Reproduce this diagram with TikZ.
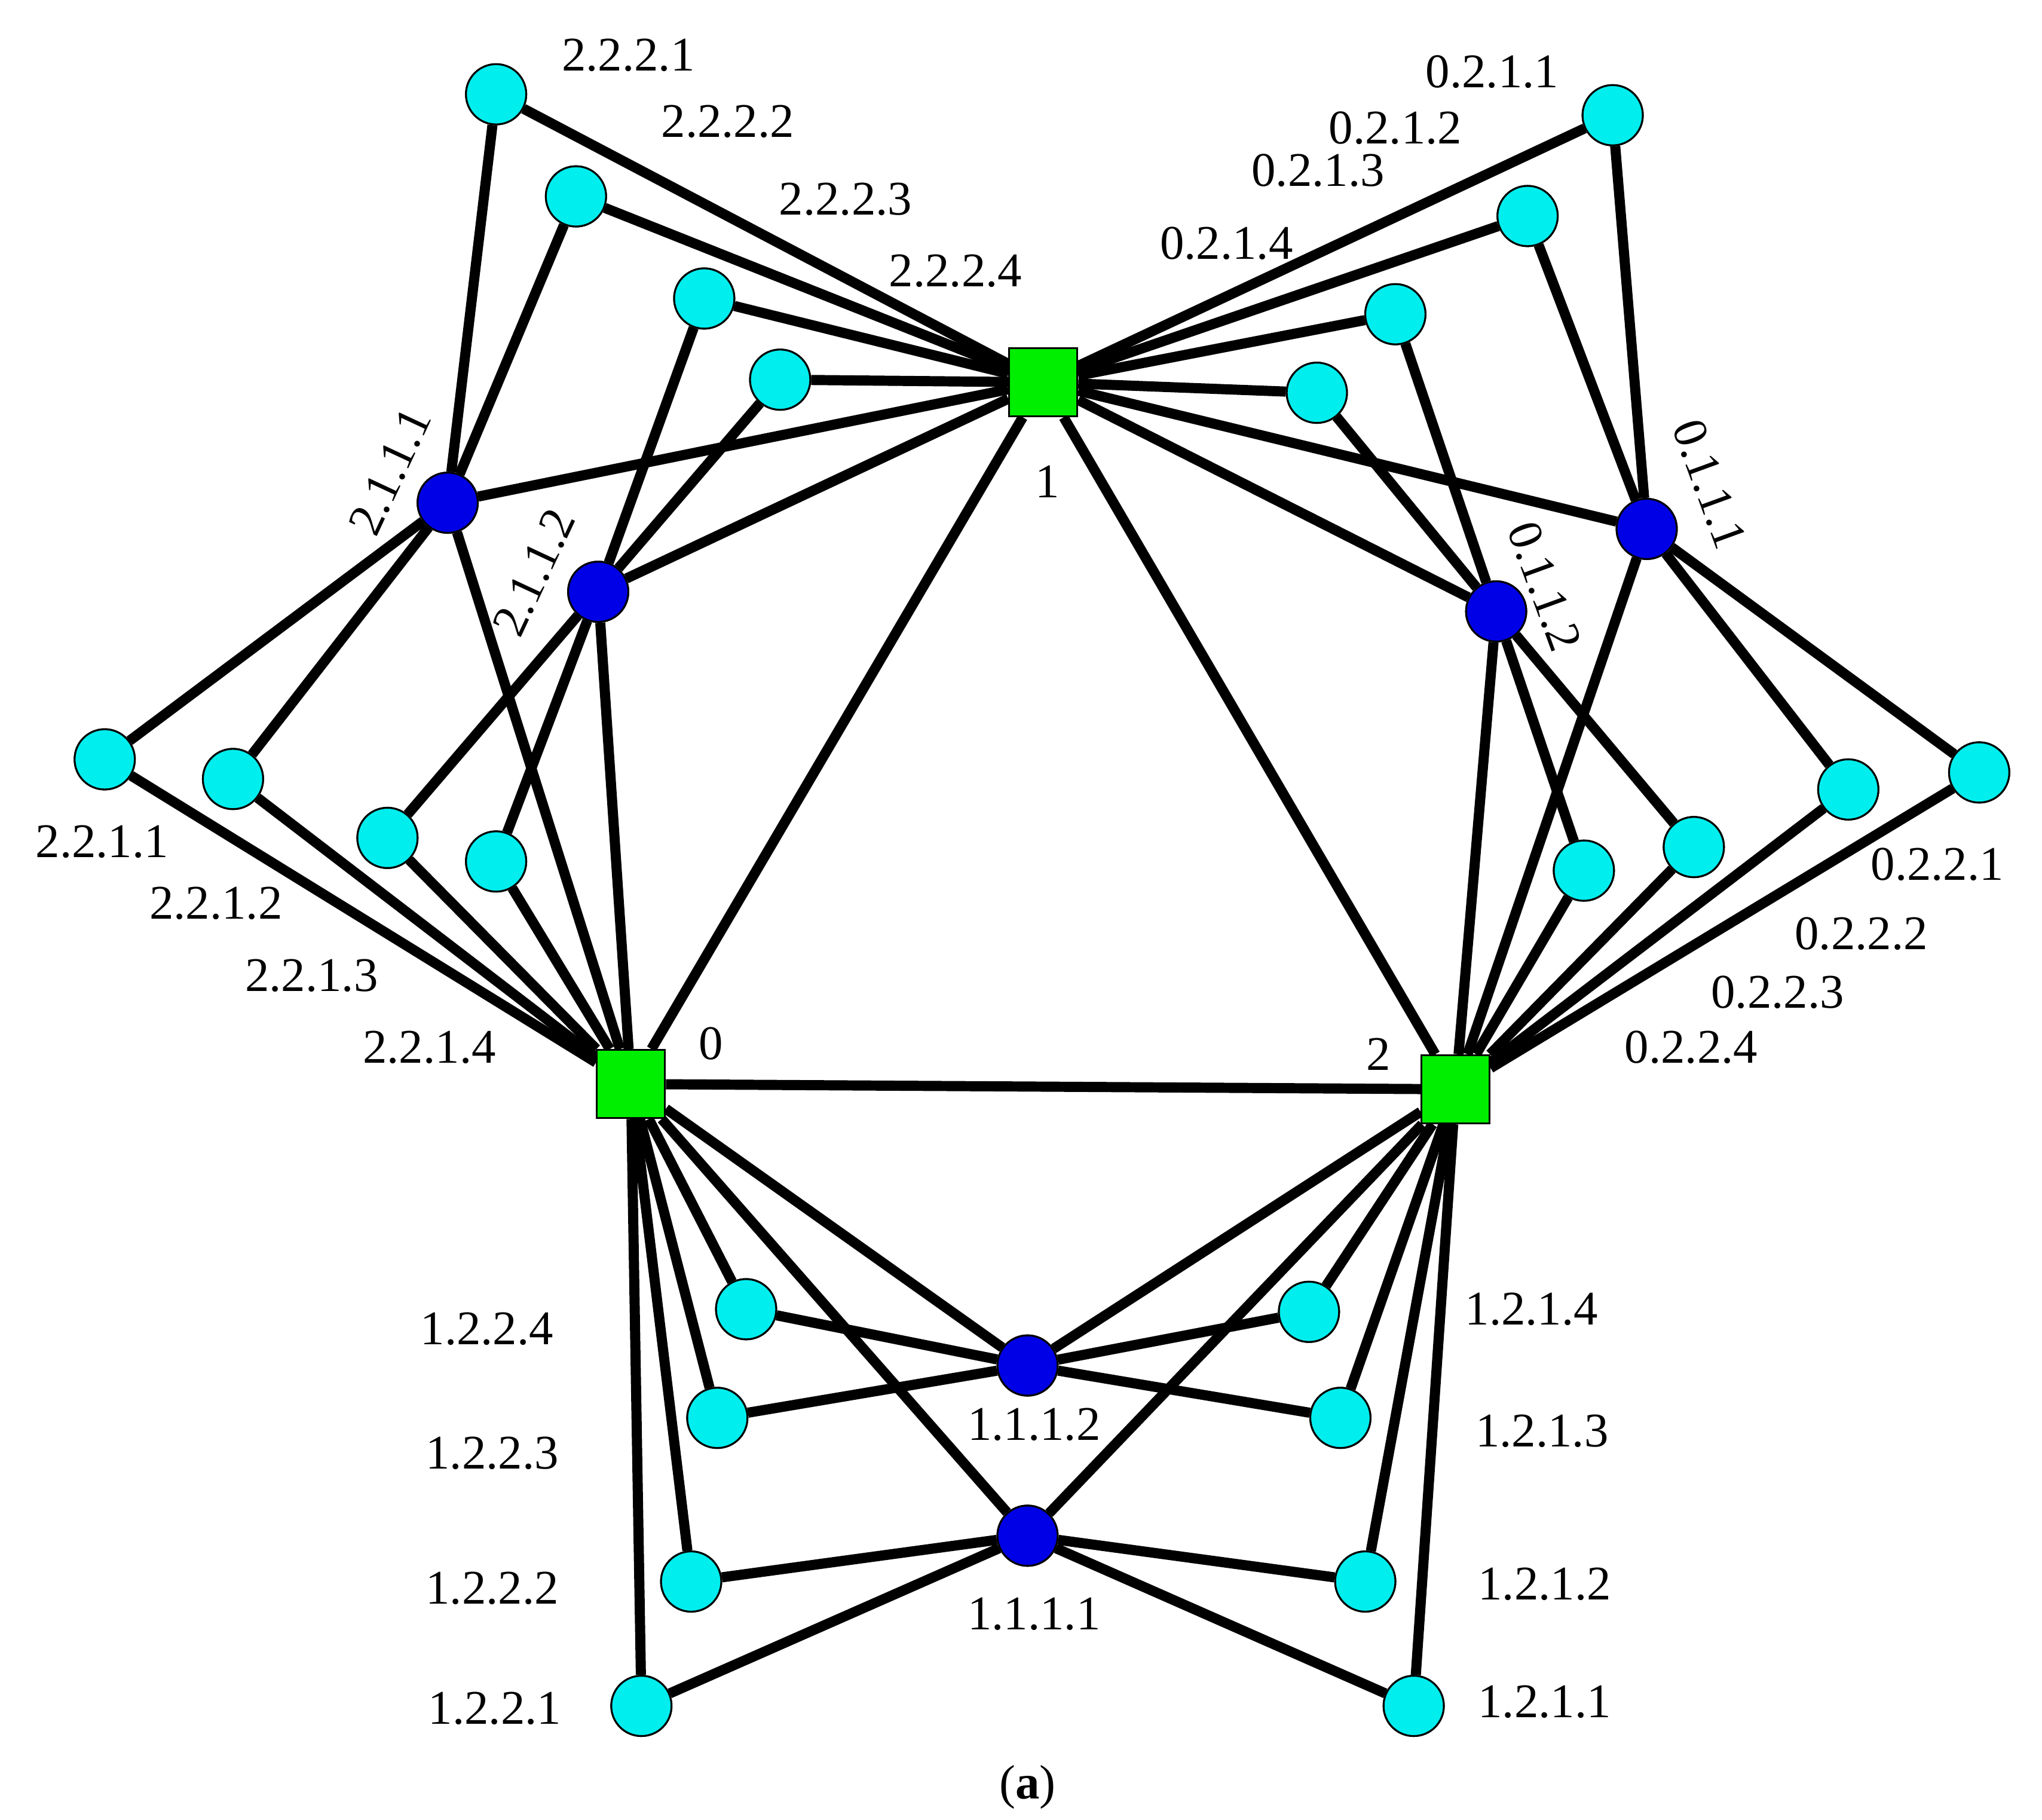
\documentclass[tikz,border=0pt]{standalone}
\usepackage{fontspec}
\setmainfont{Liberation Serif}
\definecolor{cyn}{RGB}{0,238,238}
\definecolor{grn}{RGB}{0,238,0}
\definecolor{blu}{RGB}{0,0,230}
\begin{document}
\begin{tikzpicture}[x=0.01cm,y=-0.01cm,
  sq/.style={draw=black,fill=grn,minimum size=0.52cm,inner sep=0pt,rectangle},
  bl/.style={draw=black,fill=blu,circle,minimum size=0.46cm,inner sep=0pt},
  cy/.style={draw=black,fill=cyn,circle,minimum size=0.46cm,inner sep=0pt},
  ed/.style={line width=2.2pt},
  lb/.style={font=\fontsize{10.5}{12}\selectfont,inner sep=0pt}]
\useasboundingbox (0,0) rectangle (1560,1390);
% nodes
\node[sq] (n1) at (797,292) {};
\node[sq] (n0) at (482,828) {};
\node[sq] (n2) at (1112,832) {};
\node[bl] (b2111) at (342,384) {};
\node[bl] (b2112) at (457,452) {};
\node[bl] (b0111) at (1258,404) {};
\node[bl] (b0112) at (1143,467) {};
\node[bl] (b1112) at (785,1043) {};
\node[bl] (b1111) at (785,1173) {};
\node[cy] (c2221) at (379,72) {};
\node[cy] (c2222) at (440,150) {};
\node[cy] (c2223) at (538,228) {};
\node[cy] (c2224) at (596,290) {};
\node[cy] (c0211) at (1232,88) {};
\node[cy] (c0212) at (1167,165) {};
\node[cy] (c0213) at (1066,240) {};
\node[cy] (c0214) at (1006,300) {};
\node[cy] (c2211) at (80,580) {};
\node[cy] (c2212) at (178,595) {};
\node[cy] (c2213) at (296,640) {};
\node[cy] (c2214) at (379,658) {};
\node[cy] (c0221) at (1512,590) {};
\node[cy] (c0222) at (1412,603) {};
\node[cy] (c0223) at (1294,647) {};
\node[cy] (c0224) at (1210,665) {};
\node[cy] (c1224) at (570,1000) {};
\node[cy] (c1223) at (548,1083) {};
\node[cy] (c1222) at (528,1208) {};
\node[cy] (c1221) at (490,1303) {};
\node[cy] (c1214) at (1000,1002) {};
\node[cy] (c1213) at (1024,1083) {};
\node[cy] (c1212) at (1043,1208) {};
\node[cy] (c1211) at (1080,1303) {};
% edges
\foreach \a/\b in {n0/n1,n1/n2,n0/n2,
 b2111/n1,b2111/n0,b2112/n1,b2112/n0,
 b0111/n1,b0111/n2,b0112/n1,b0112/n2,
 b1112/n0,b1112/n2,b1111/n0,b1111/n2,
 c2221/n1,c2222/n1,c2223/n1,c2224/n1,
 c2221/b2111,c2222/b2111,c2223/b2112,c2224/b2112,
 c0211/n1,c0212/n1,c0213/n1,c0214/n1,
 c0211/b0111,c0212/b0111,c0213/b0112,c0214/b0112,
 c2211/n0,c2212/n0,c2213/n0,c2214/n0,
 c2211/b2111,c2212/b2111,c2213/b2112,c2214/b2112,
 c0221/n2,c0222/n2,c0223/n2,c0224/n2,
 c0221/b0111,c0222/b0111,c0223/b0112,c0224/b0112,
 c1224/n0,c1223/n0,c1222/n0,c1221/n0,
 c1224/b1112,c1223/b1112,c1222/b1111,c1221/b1111,
 c1214/n2,c1213/n2,c1212/n2,c1211/n2,
 c1214/b1112,c1213/b1112,c1212/b1111,c1211/b1111}
 {\draw[ed] (\a) -- (\b);}
% redraw nodes on top
\foreach \n in {n0,n1,n2}{\node[sq] at (\n) {};}
\foreach \n in {b2111,b2112,b0111,b0112,b1112,b1111}{\node[bl] at (\n) {};}
\foreach \n in {c2221,c2222,c2223,c2224,c0211,c0212,c0213,c0214,c2211,c2212,c2213,c2214,c0221,c0222,c0223,c0224,c1224,c1223,c1222,c1221,c1214,c1213,c1212,c1211}{\node[cy] at (\n) {};}
% labels
\node[lb] (l1) at (800,368) {1};
\node[lb] (l0) at (543,797) {0};
\node[lb] (l2) at (1053,805) {2};
\node[lb] at (480,42) {2.2.2.1};
\node[lb] at (556,93) {2.2.2.2};
\node[lb] at (646,152) {2.2.2.3};
\node[lb] at (730,207) {2.2.2.4};
\node[lb] at (1140,55) {0.2.1.1};
\node[lb] at (1066,98) {0.2.1.2};
\node[lb] at (1007,130) {0.2.1.3};
\node[lb] at (937,186) {0.2.1.4};
\node[lb] at (78,643) {2.2.1.1};
\node[lb] at (165,690) {2.2.1.2};
\node[lb] at (238,745) {2.2.1.3};
\node[lb] at (328,800) {2.2.1.4};
\node[lb] at (1480,660) {0.2.2.1};
\node[lb] at (1422,713) {0.2.2.2};
\node[lb] at (1358,758) {0.2.2.3};
\node[lb] at (1292,800) {0.2.2.4};
\node[lb] at (372,1015) {1.2.2.4};
\node[lb] at (376,1110) {1.2.2.3};
\node[lb] at (376,1213) {1.2.2.2};
\node[lb] at (378,1305) {1.2.2.1};
\node[lb] at (1170,1000) {1.2.1.4};
\node[lb] at (1178,1093) {1.2.1.3};
\node[lb] at (1180,1210) {1.2.1.2};
\node[lb] at (1180,1300) {1.2.1.1};
\node[lb] at (790,1088) {1.1.1.2};
\node[lb] at (790,1233) {1.1.1.1};
\node[lb,rotate=65] at (298,360) {2.1.1.1};
\node[lb,rotate=65] at (408,437) {2.1.1.2};
\node[lb,rotate=-70] at (1306,370) {0.1.1.1};
\node[lb,rotate=-70] at (1180,448) {0.1.1.2};
\node[lb] at (785,1365) {(\textbf{a})};
\end{tikzpicture}
\end{document}
